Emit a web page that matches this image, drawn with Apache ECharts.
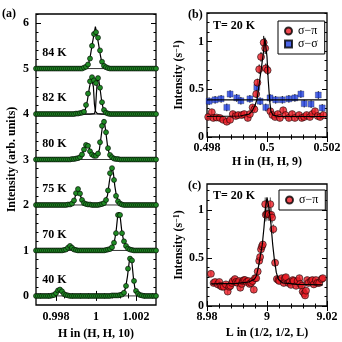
<!DOCTYPE html>
<html>
<head>
<meta charset="utf-8">
<script src="https://cdn.jsdelivr.net/npm/echarts@6/dist/echarts.min.js"></script>
<style>
html, body { margin: 0; padding: 0; background: #fff; }
#chart { width: 342px; height: 342px; }
</style>
</head>
<body>
<div id="chart"></div>
<script>
// ---- (a) H scans at several temperatures, offset by 1 each ----
var hGrid = [
  0.9970, 0.9971, 0.9972, 0.9973, 0.9974, 0.9975, 0.9976, 0.9977, 0.9978, 0.9979,
  0.9980, 0.9981, 0.9982, 0.9983, 0.9984, 0.9985, 0.9986, 0.9987, 0.9988, 0.9989,
  0.9990, 0.9991, 0.9992, 0.9993, 0.9994, 0.9995, 0.9996, 0.9997, 0.9998, 0.9999,
  1.0000, 1.0001, 1.0002, 1.0003, 1.0004, 1.0005, 1.0006, 1.0007, 1.0008, 1.0009,
  1.0010, 1.0011, 1.0012, 1.0013, 1.0014, 1.0015, 1.0016, 1.0017, 1.0018, 1.0019,
  1.0020, 1.0021, 1.0022, 1.0023, 1.0024, 1.0025, 1.0026, 1.0027, 1.0028, 1.0029,
  1.0030
];
var temps = ['40 K', '70 K', '75 K', '80 K', '82 K', '84 K'];
var offsets = [0, 1, 2, 3, 4, 5];

var int40 = [
  0, 0, 0, 0, 0, 0, 0, 0, 0.01, 0.02,
  0.06, 0.12, 0.14, 0.10, 0.04, 0.02, 0.01, 0, 0, 0,
  0, 0, 0, 0, 0, 0, 0, 0, 0, 0,
  0, 0, 0, 0, 0, 0, 0, 0, 0.01, 0.01,
  0.01, 0.01, 0.02, 0.03, 0.07, 0.22, 0.60, 0.82, 0.78, 0.33,
  0.11, 0.05, 0.02, 0.01, 0, 0, 0, 0, 0, 0,
  0
];
var int70 = [
  0, 0, 0, 0, 0, 0, 0, 0, 0, 0,
  0, 0, 0, 0, 0.01, 0.02, 0.06, 0.10, 0.06, 0.02,
  0.01, 0, 0, 0, 0, 0, 0, 0, 0, 0,
  0, 0, 0, 0, 0, 0.01, 0.02, 0.03, 0.07, 0.17,
  0.38, 0.78, 0.78, 0.38, 0.20, 0.10, 0.04, 0.02, 0.01, 0,
  0, 0, 0, 0, 0, 0, 0, 0, 0, 0,
  0
];
var int75 = [
  0, 0, 0, 0, 0, 0, 0, 0, 0, 0,
  0, 0, 0, 0, 0, 0, 0.01, 0.01, 0.03, 0.10,
  0.26, 0.35, 0.25, 0.11, 0.04, 0.02, 0.01, 0.01, 0, 0,
  0, 0, 0.01, 0.02, 0.04, 0.11, 0.32, 0.70, 0.81, 0.55,
  0.20, 0.08, 0.03, 0.01, 0, 0, 0, 0, 0, 0,
  0, 0, 0, 0, 0, 0, 0, 0, 0, 0,
  0
];
var int80 = [
  0, 0, 0, 0, 0, 0, 0, 0, 0, 0,
  0, 0, 0, 0, 0, 0, 0, 0, 0.01, 0.01,
  0.02, 0.03, 0.05, 0.11, 0.22, 0.32, 0.30, 0.18, 0.11, 0.08,
  0.08, 0.13, 0.38, 0.74, 0.83, 0.60, 0.25, 0.10, 0.05, 0.02,
  0.01, 0.01, 0, 0, 0, 0, 0, 0, 0, 0,
  0, 0, 0, 0, 0, 0, 0, 0, 0, 0,
  0
];
var int82 = [
  0, 0, 0, 0, 0, 0, 0, 0, 0, 0,
  0, 0, 0, 0, 0, 0, 0, 0, 0, 0,
  0.01, 0.01, 0.02, 0.03, 0.05, 0.20, 0.45, 0.72, 0.81, 0.74,
  0.68, 0.79, 0.58, 0.26, 0.09, 0.03, 0.01, 0, 0, 0,
  0, 0, 0, 0, 0, 0, 0, 0, 0, 0,
  0, 0, 0, 0, 0, 0, 0, 0, 0, 0,
  0
];
var int84 = [
  0, 0, 0, 0, 0, 0, 0, 0, 0, 0,
  0, 0, 0, 0, 0, 0, 0, 0, 0, 0,
  0, 0, 0, 0, 0.02, 0.04, 0.09, 0.22, 0.50, 0.76,
  0.80, 0.68, 0.40, 0.15, 0.06, 0.03, 0.01, 0, 0, 0,
  0, 0, 0, 0, 0, 0, 0, 0, 0, 0,
  0, 0, 0, 0, 0, 0, 0, 0, 0, 0,
  0
];
var scansA = [int40, int70, int75, int80, int82, int84];

// fitted curves (H, intensity above baseline)
var fit40 = [[0.997, 0], [0.9975, 0.005], [0.99767, 0.01], [0.99792, 0.03], [0.99807, 0.10], [0.99817, 0.15], [0.99827, 0.11], [0.99842, 0.03], [0.99867, 0.01], [0.999, 0], [1.0009, 0.01], [1.00117, 0.03], [1.00137, 0.07], [1.00147, 0.16], [1.00157, 0.42], [1.00167, 0.78], [1.00172, 0.85], [1.00179, 0.76], [1.00187, 0.40], [1.00194, 0.18], [1.00202, 0.09], [1.00217, 0.04], [1.00242, 0.01], [1.003, 0]];
var fit70 = [[0.997, 0], [0.99837, 0.01], [0.99857, 0.05], [0.99872, 0.11], [0.99887, 0.05], [0.99907, 0.01], [0.9993, 0], [1.0003, 0], [1.00042, 0.01], [1.00067, 0.04], [1.00082, 0.10], [1.00092, 0.20], [1.001, 0.40], [1.00107, 0.70], [1.00115, 0.84], [1.00122, 0.70], [1.00129, 0.42], [1.00137, 0.24], [1.00147, 0.12], [1.00157, 0.06], [1.00177, 0.02], [1.00217, 0], [1.003, 0]];
var fit75 = [[0.997, 0], [0.9984, 0.005], [0.99867, 0.01], [0.99882, 0.04], [0.99894, 0.15], [0.99902, 0.28], [0.99909, 0.36], [0.99917, 0.30], [0.99924, 0.18], [0.99932, 0.08], [0.99942, 0.03], [0.99967, 0.01], [1.00017, 0.01], [1.00037, 0.03], [1.00047, 0.07], [1.00057, 0.20], [1.00067, 0.52], [1.00079, 0.84], [1.00087, 0.70], [1.00094, 0.42], [1.00102, 0.20], [1.00112, 0.08], [1.00127, 0.03], [1.00157, 0.01], [1.0019, 0], [1.003, 0]];
var fit80 = [[0.997, 0], [0.9987, 0.005], [0.99897, 0.01], [0.99917, 0.04], [0.99932, 0.13], [0.99942, 0.24], [0.99949, 0.31], [0.99955, 0.34], [0.99962, 0.30], [0.99969, 0.22], [0.99977, 0.13], [0.99987, 0.08], [0.99997, 0.08], [1.00007, 0.11], [1.00017, 0.22], [1.00024, 0.45], [1.00032, 0.72], [1.00038, 0.88], [1.00044, 0.78], [1.00052, 0.50], [1.00059, 0.25], [1.00067, 0.12], [1.00077, 0.06], [1.00092, 0.02], [1.00117, 0], [1.003, 0]];
var fit82a = [[0.997, 0], [0.999, 0], [0.99927, 0.01], [0.99937, 0.03], [0.99947, 0.10], [0.99957, 0.30], [0.99967, 0.58], [0.99977, 0.80], [0.99982, 0.83], [0.99987, 0.60], [0.99992, 0.22], [0.99997, 0.06], [1.00007, 0.01], [1.0003, 0], [1.003, 0]];
var fit82b = [[0.997, 0], [0.9997, 0], [0.99992, 0.01], [0.99997, 0.08], [1.00002, 0.45], [1.00008, 0.80], [1.00014, 0.74], [1.00022, 0.50], [1.00029, 0.26], [1.00037, 0.10], [1.00047, 0.03], [1.00062, 0.01], [1.0009, 0], [1.003, 0]];
var fit84 = [[0.997, 0], [0.99897, 0], [0.99937, 0.02], [0.99952, 0.05], [0.99962, 0.11], [0.99967, 0.18], [0.99972, 0.29], [0.99977, 0.42], [0.99982, 0.56], [0.99987, 0.68], [0.99992, 0.80], [0.99997, 0.92], [1.00002, 0.80], [1.00007, 0.68], [1.00012, 0.56], [1.00017, 0.42], [1.00022, 0.29], [1.00027, 0.18], [1.00032, 0.11], [1.00042, 0.05], [1.00057, 0.02], [1.00097, 0], [1.003, 0]];
var fitsA = [[fit40], [fit70], [fit75], [fit80], [fit82a, fit82b], [fit84]];

// ---- (b) H scan at (H, H, 9), T = 20 K : [H, I, err] ----
var sigPiB = [
  [0.49804, 0.21, 0.03], [0.49816, 0.26, 0.03], [0.49821, 0.20, 0.03], [0.49832, 0.205, 0.03],
  [0.49843, 0.20, 0.03], [0.49854, 0.18, 0.03], [0.49866, 0.16, 0.03], [0.49877, 0.18, 0.03],
  [0.49886, 0.24, 0.03], [0.49896, 0.22, 0.03], [0.49904, 0.23, 0.03], [0.49916, 0.23, 0.03],
  [0.49924, 0.24, 0.03], [0.49936, 0.20, 0.03], [0.49943, 0.24, 0.03], [0.49952, 0.31, 0.03],
  [0.49958, 0.29, 0.03], [0.49964, 0.45, 0.04], [0.49968, 0.57, 0.04], [0.49974, 0.71, 0.05],
  [0.4998, 0.84, 0.05], [0.49989, 0.99, 0.07], [0.49994, 0.93, 0.06], [0.49996, 0.72, 0.05],
  [0.50002, 0.70, 0.05], [0.50011, 0.27, 0.03], [0.50018, 0.23, 0.03], [0.50027, 0.21, 0.03],
  [0.50036, 0.24, 0.03], [0.50043, 0.20, 0.03], [0.50054, 0.28, 0.03], [0.50062, 0.23, 0.03],
  [0.50073, 0.20, 0.03], [0.50084, 0.24, 0.03], [0.50093, 0.20, 0.03], [0.50107, 0.23, 0.03],
  [0.50116, 0.20, 0.03], [0.50124, 0.21, 0.03], [0.50132, 0.23, 0.03], [0.50143, 0.21, 0.03],
  [0.50151, 0.24, 0.03], [0.5016, 0.27, 0.03], [0.50169, 0.22, 0.03], [0.50177, 0.21, 0.03],
  [0.50188, 0.23, 0.03]
];
var sigSigB = [
  [0.49807, 0.375, 0.04], [0.49827, 0.39, 0.04], [0.49847, 0.40, 0.04], [0.49866, 0.31, 0.04],
  [0.49877, 0.45, 0.04], [0.49899, 0.41, 0.04], [0.49913, 0.38, 0.04], [0.49943, 0.40, 0.04],
  [0.49966, 0.52, 0.04], [0.49977, 0.375, 0.04], [0.49996, 0.31, 0.04], [0.5001, 0.41, 0.04],
  [0.50029, 0.39, 0.04], [0.50051, 0.39, 0.04], [0.50073, 0.40, 0.04], [0.50093, 0.41, 0.04],
  [0.50113, 0.45, 0.04], [0.50124, 0.35, 0.04], [0.50147, 0.345, 0.04], [0.50171, 0.44, 0.04],
  [0.50184, 0.305, 0.04]
];
var fitPiB = [[0.498, 0.215], [0.4991, 0.22], [0.4994, 0.24], [0.4995, 0.27], [0.4996, 0.33], [0.49967, 0.40], [0.49974, 0.56], [0.49982, 0.74], [0.49989, 0.91], [0.49993, 1.04], [0.5, 0.84], [0.50004, 0.60], [0.50009, 0.38], [0.50013, 0.27], [0.5002, 0.23], [0.5004, 0.215], [0.502, 0.215]];
var fitSigB = [[0.498, 0.39], [0.502, 0.39]];

// ---- (c) L scan at (1/2, 1/2, L), T = 20 K : [L, I, err] ----
var sigPiC = [
  [8.9813, 0.335, 0.03], [8.9822, 0.24, 0.03], [8.9827, 0.25, 0.03], [8.9836, 0.225, 0.03],
  [8.9841, 0.25, 0.03], [8.9845, 0.21, 0.03], [8.985, 0.20, 0.03], [8.9856, 0.20, 0.03],
  [8.9863, 0.225, 0.03], [8.9869, 0.15, 0.03], [8.9874, 0.20, 0.03], [8.9878, 0.21, 0.03],
  [8.9883, 0.24, 0.03], [8.9886, 0.26, 0.03], [8.9893, 0.28, 0.03], [8.9897, 0.25, 0.03],
  [8.9902, 0.24, 0.03], [8.9907, 0.26, 0.03], [8.9911, 0.19, 0.03], [8.9916, 0.23, 0.03],
  [8.9919, 0.26, 0.03], [8.9923, 0.27, 0.03], [8.9927, 0.27, 0.03], [8.9932, 0.25, 0.03],
  [8.9938, 0.26, 0.03], [8.9942, 0.23, 0.03], [8.9947, 0.24, 0.03], [8.9952, 0.26, 0.03],
  [8.9956, 0.17, 0.03], [8.996, 0.29, 0.03], [8.9964, 0.29, 0.03], [8.9969, 0.36, 0.03],
  [8.9974, 0.47, 0.04], [8.9977, 0.51, 0.04], [8.998, 0.59, 0.04], [8.9983, 0.62, 0.04],
  [8.9986, 0.64, 0.04], [8.9994, 1.06, 0.07], [8.9996, 0.95, 0.07], [9.0, 0.96, 0.07],
  [9.0006, 0.955, 0.07], [9.0011, 1.06, 0.07], [9.0014, 0.95, 0.07], [9.0017, 0.92, 0.06],
  [9.0021, 0.80, 0.05], [9.0027, 0.45, 0.04], [9.0033, 0.28, 0.03], [9.0038, 0.27, 0.03],
  [9.0041, 0.26, 0.03], [9.0049, 0.29, 0.03], [9.0056, 0.24, 0.03], [9.006, 0.29, 0.03],
  [9.0063, 0.30, 0.03], [9.0071, 0.24, 0.03], [9.0076, 0.25, 0.03], [9.008, 0.22, 0.03],
  [9.0086, 0.27, 0.03], [9.0089, 0.26, 0.03], [9.0097, 0.21, 0.03], [9.0102, 0.26, 0.03],
  [9.0108, 0.29, 0.03], [9.0111, 0.23, 0.03], [9.0116, 0.21, 0.03], [9.0119, 0.15, 0.03],
  [9.0124, 0.13, 0.03], [9.0127, 0.11, 0.03], [9.013, 0.16, 0.03], [9.0134, 0.27, 0.03],
  [9.0138, 0.24, 0.03], [9.0147, 0.26, 0.03], [9.0151, 0.27, 0.03], [9.0156, 0.225, 0.03],
  [9.0163, 0.27, 0.03], [9.0168, 0.24, 0.03], [9.0174, 0.24, 0.03], [9.0182, 0.28, 0.03],
  [9.0186, 0.29, 0.03]
];
var fitPiC = [[8.9813, 0.23], [8.99, 0.235], [8.994, 0.25], [8.9958, 0.28], [8.9964, 0.31], [8.9971, 0.40], [8.99777, 0.52], [8.99843, 0.64], [8.999, 0.82], [8.99957, 1.04], [9.0, 1.13], [9.00057, 1.04], [9.00133, 0.85], [9.0019, 0.64], [9.00243, 0.49], [9.0031, 0.35], [9.00377, 0.28], [9.0052, 0.24], [9.01, 0.225], [9.0186, 0.22]];

var PI = '\u03c3\u2212\u03c0', SS = '\u03c3\u2212\u03c3';
var serif = 'Liberation Serif';
var green = '#1f8a24', red = '#ec1c24', blue = '#1f3fe0';

function seq(from, to, step) {
  var out = [], n = Math.round((to - from) / step);
  for (var i = 0; i <= n; i++) out.push(+(from + i * step).toFixed(6));
  return out;
}
function minorOf(from, to, step, major) {
  return seq(from, to, step).filter(function (v) {
    return major.every(function (m) { return Math.abs(m - v) > step / 10; });
  });
}

// four axes per side pair: labelled major, minor, mirrored major, mirrored minor
function frameAxes(kind, gi, min, max, major, minor, o) {
  var sides = kind === 'x' ? ['bottom', 'top'] : ['left', 'right'];
  var list = [];
  sides.forEach(function (p, s) {
    [major, minor].forEach(function (vals, m) {
      var ax = {
        type: 'value', gridIndex: gi, min: min, max: max, position: p,
        axisLine: { show: false }, splitLine: { show: false },
        axisTick: { show: true, inside: true, length: m === 0 ? 5 : 2.5, customValues: vals,
                    lineStyle: { color: '#000', width: 1 } },
        axisLabel: { show: false }
      };
      if (s === 0 && m === 0) {
        ax.axisLabel = { show: true, customValues: major, color: '#000', fontFamily: serif,
                         fontWeight: 'bold', fontSize: 12, margin: o.margin };
        ax.name = o.name;
        ax.nameLocation = 'middle';
        ax.nameGap = o.nameGap;
        ax.nameTextStyle = { color: '#000', fontFamily: serif, fontWeight: 'bold', fontSize: 12,
                             rich: { sup: { fontSize: 8, fontFamily: serif, fontWeight: 'bold', verticalAlign: 'top', color: '#000' } } };
      }
      list.push(ax);
    });
  });
  return list;
}

var xAxes = [].concat(
  frameAxes('x', 0, 0.997, 1.003, [0.998, 1, 1.002], minorOf(0.9972, 1.0028, 0.0004, [0.998, 1, 1.002]),
            { name: 'H in (H, H, 10)', nameGap: 21, margin: 6 }),
  frameAxes('x', 1, 0.498, 0.502, [0.498, 0.5, 0.502], minorOf(0.498, 0.502, 0.0004, [0.498, 0.5, 0.502]),
            { name: 'H in (H, H, 9)', nameGap: 19, margin: 5 }),
  frameAxes('x', 2, 8.98, 9.02, [8.98, 9, 9.02], minorOf(8.98, 9.02, 0.004, [8.98, 9, 9.02]),
            { name: 'L in (1/2, 1/2, L)', nameGap: 21, margin: 5 })
);
var yAxes = [].concat(
  frameAxes('y', 0, -0.2, 6.2, [0, 1, 2, 3, 4, 5, 6], minorOf(0, 6.2, 0.2, [0, 1, 2, 3, 4, 5, 6]),
            { name: 'Intensity (arb. units)', nameGap: 18, margin: 7 }),
  frameAxes('y', 1, 0, 1.3, [0, 0.5, 1], minorOf(0, 1.3, 0.1, [0, 0.5, 1]),
            { name: 'Intensity (s{sup|\u22121})', nameGap: 20, margin: 3 }),
  frameAxes('y', 2, 0, 1.27, [0, 0.5, 1], minorOf(0, 1.2, 0.1, [0, 0.5, 1]),
            { name: 'Intensity (s{sup|\u22121})', nameGap: 20, margin: 3 })
);

function errBars(color) {
  return function (params, api) {
    var x = api.value(0), y = api.value(1), e = api.value(2);
    var t = api.coord([x, y + e]), b = api.coord([x, y - e]);
    return { type: 'line', shape: { x1: t[0], y1: t[1], x2: b[0], y2: b[1] },
             style: { stroke: color, lineWidth: 1 } };
  };
}

var series = [];
var axA = 0, axB = 4, axC = 8;

scansA.forEach(function (ys, i) {
  var off = offsets[i];
  series.push({
    type: 'line', xAxisIndex: axA, yAxisIndex: axA, showSymbol: false, silent: true, z: 1,
    lineStyle: { color: '#000', width: 0.8 },
    data: [[hGrid[0], off], [hGrid[hGrid.length - 1], off]]
  });
  fitsA[i].forEach(function (f) {
    series.push({
      type: 'line', xAxisIndex: axA, yAxisIndex: axA, showSymbol: false, silent: true, z: 2,
      lineStyle: { color: '#000', width: 1.2 },
      data: f.map(function (p) { return [p[0], p[1] + off]; })
    });
  });
  series.push({
    type: 'scatter', xAxisIndex: axA, yAxisIndex: axA, symbol: 'circle', symbolSize: 5, z: 3,
    itemStyle: { color: green, borderColor: '#000', borderWidth: 0.6, opacity: 1 },
    data: hGrid.map(function (h, k) { return [h, ys[k] + off]; })
  });
});
series.push({
  type: 'custom', xAxisIndex: axA, yAxisIndex: axA, z: 4, silent: true,
  data: offsets.map(function (o) { return [0.99731, o + 0.35]; }),
  renderItem: function (params, api) {
    var p = api.coord([api.value(0), api.value(1)]);
    return { type: 'text', x: p[0], y: p[1],
             style: { text: temps[params.dataIndex], font: 'bold 12px "Liberation Serif"', fill: '#000',
                      align: 'left', verticalAlign: 'middle' } };
  }
});

// (b)
series.push(
  { type: 'custom', xAxisIndex: axB, yAxisIndex: axB, z: 2, silent: true, data: sigSigB,
    encode: { x: 0, y: 1 }, renderItem: errBars('#000') },
  { name: SS, type: 'scatter', xAxisIndex: axB, yAxisIndex: axB, symbol: 'rect', symbolSize: 6, z: 3,
    itemStyle: { color: blue, borderColor: '#000', borderWidth: 0.3 }, data: sigSigB },
  { type: 'custom', xAxisIndex: axB, yAxisIndex: axB, z: 2, silent: true, data: sigPiB,
    encode: { x: 0, y: 1 }, renderItem: errBars('#000') },
  { name: PI, type: 'scatter', xAxisIndex: axB, yAxisIndex: axB, symbol: 'circle', symbolSize: 7, z: 3,
    itemStyle: { color: red, borderColor: '#000', borderWidth: 0.7 }, data: sigPiB },
  { type: 'line', xAxisIndex: axB, yAxisIndex: axB, showSymbol: false, silent: true, z: 4,
    lineStyle: { color: '#000', width: 1.2 }, data: fitSigB },
  { type: 'line', xAxisIndex: axB, yAxisIndex: axB, showSymbol: false, silent: true, z: 4,
    lineStyle: { color: '#000', width: 1.2 }, data: fitPiB }
);

// (c)
series.push(
  { type: 'custom', xAxisIndex: axC, yAxisIndex: axC, z: 2, silent: true, data: sigPiC,
    encode: { x: 0, y: 1 }, renderItem: errBars('#555') },
  { name: PI, type: 'scatter', xAxisIndex: axC, yAxisIndex: axC, symbol: 'circle', symbolSize: 7, z: 3,
    itemStyle: { color: red, borderColor: '#000', borderWidth: 0.7 }, data: sigPiC },
  { type: 'line', xAxisIndex: axC, yAxisIndex: axC, showSymbol: false, silent: true, z: 4,
    lineStyle: { color: '#000', width: 1.2 }, data: fitPiC }
);

var legendBase = {
  orient: 'vertical', itemWidth: 7, itemHeight: 7, itemGap: 1, selectedMode: false,
  borderColor: '#000', borderWidth: 1, padding: [4, 7, 4, 6], backgroundColor: '#fff',
  textStyle: { color: '#000', fontFamily: serif, fontSize: 12, padding: [0, 0, 0, 1] }
};

var chart = echarts.init(document.getElementById('chart'), null, { renderer: 'canvas' });
chart.setOption({
  animation: false,
  backgroundColor: '#fff',
  grid: [
    { left: 36, top: 14, width: 120, height: 291, show: true, borderColor: '#000', borderWidth: 1.3, outerBoundsMode: 'none' },
    { left: 207, top: 13, width: 120, height: 124, show: true, borderColor: '#000', borderWidth: 1.3, outerBoundsMode: 'none' },
    { left: 207, top: 184, width: 120, height: 122, show: true, borderColor: '#000', borderWidth: 1.3, outerBoundsMode: 'none' }
  ],
  xAxis: xAxes,
  yAxis: yAxes,
  legend: [
    Object.assign({}, legendBase, { left: 278, top: 21, data: [{ name: PI, icon: 'circle' }, { name: SS, icon: 'rect' }] }),
    Object.assign({}, legendBase, { left: 279, top: 190, data: [{ name: PI, icon: 'circle' }] })
  ],
  graphic: [
    { type: 'text', left: 2, top: 8, style: { text: '(a)', font: 'bold 12px "Liberation Serif"', fill: '#000' } },
    { type: 'text', left: 188, top: 9, style: { text: '(b)', font: 'bold 12px "Liberation Serif"', fill: '#000' } },
    { type: 'text', left: 188, top: 180, style: { text: '(c)', font: 'bold 12px "Liberation Serif"', fill: '#000' } },
    { type: 'text', left: 213, top: 20, style: { text: 'T= 20 K', font: 'bold 12px "Liberation Serif"', fill: '#000' } },
    { type: 'text', left: 213, top: 190, style: { text: 'T= 20 K', font: 'bold 12px "Liberation Serif"', fill: '#000' } }
  ],
  series: series
});
</script>
</body>
</html>
